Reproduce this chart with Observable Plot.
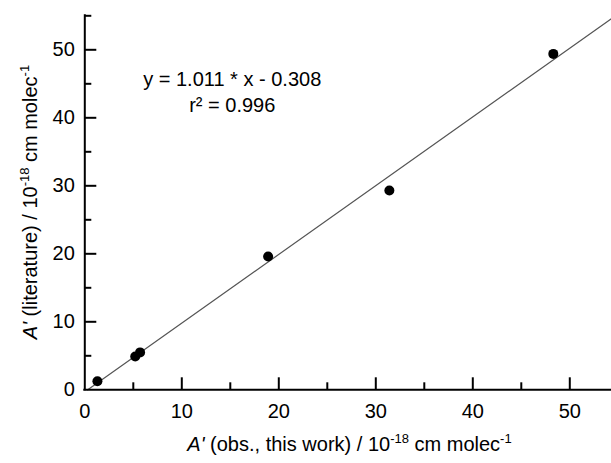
<!DOCTYPE html>
<html><head><meta charset="utf-8">
<script src="https://cdn.jsdelivr.net/npm/d3@7"></script>
<script src="https://cdn.jsdelivr.net/npm/@observablehq/plot@0.6"></script>
<style>
body{margin:0;background:#fff;}
svg{font-family:"Liberation Sans",Arial,Helvetica,sans-serif;}
</style>
</head><body><div id="chart"></div>
<script>
// Data
const obsA = [1.3, 5.2, 5.7, 18.9, 31.4, 48.3];     // A' (obs., this work)
const litA = [1.25, 4.9, 5.5, 19.6, 29.3, 49.4];    // A' (literature)
const xMajor = [0, 10, 20, 30, 40, 50];
const xMinor = [5, 15, 25, 35, 45];
const yMajor = [0, 10, 20, 30, 40, 50];
const yMinor = [5, 15, 25, 35, 45, 55];
const fitSlope = 1.011;
const fitIntercept = -0.308;
const fitText = "y = 1.011 * x - 0.308";
const r2Text = "r\u00B2 = 0.996";

const xDomain = [0, 54.3];
const yDomain = [0, 55];

const points = obsA.map((x, i) => ({x, y: litA[i]}));
const fitStart = -fitIntercept / fitSlope;
const fitLine = [fitStart, xDomain[1]].map(x => ({x, y: fitSlope * x + fitIntercept}));

const FS = 20;

const plot = Plot.plot({
  width: 611,
  height: 463,
  marginLeft: 84.3,
  marginRight: 0,
  marginTop: 15.3,
  marginBottom: 73.7,
  x: {domain: xDomain, axis: null},
  y: {domain: yDomain, axis: null},
  style: {fontFamily: '"Liberation Sans", Arial, sans-serif', background: "white", color: "black"},
  marks: [
    Plot.line(fitLine, {x: "x", y: "y", stroke: "#555", strokeWidth: 1.2}),
    Plot.ruleY([0], {stroke: "black", strokeWidth: 2, strokeLinecap: "square"}),
    Plot.ruleX([0], {stroke: "black", strokeWidth: 2, strokeLinecap: "square"}),
    Plot.ruleX(xMajor.filter(v => v > 0), {x: d => d, y1: 0, y2: 0, insetTop: -12, stroke: "black", strokeWidth: 2}),
    Plot.ruleX(xMinor, {x: d => d, y1: 0, y2: 0, insetTop: -7, stroke: "black", strokeWidth: 2}),
    Plot.ruleY(yMajor.filter(v => v > 0), {y: d => d, x1: 0, x2: 0, insetRight: -12, stroke: "black", strokeWidth: 2}),
    Plot.ruleY(yMinor, {y: d => d, x1: 0, x2: 0, insetRight: -7, stroke: "black", strokeWidth: 2}),
    Plot.text(xMajor, {x: d => d, y: yDomain[0], dy: 22, text: d => String(d), fontSize: FS, fill: "black"}),
    Plot.text(yMajor, {x: xDomain[0], y: d => d, dx: -10, textAnchor: "end", text: d => String(d), fontSize: FS, fill: "black"}),
    Plot.dot(points, {x: "x", y: "y", r: 5, fill: "black", stroke: "none"}),
    Plot.text([fitText + "\n" + r2Text], {x: 15.2, y: 40.85, text: d => d, lineAnchor: "bottom", lineHeight: 1.32, fontSize: FS, fill: "black"})
  ]
});

document.getElementById("chart").appendChild(plot);

// Axis titles with italic A' and superscripts
const svg = d3.select(plot);
function addLabel(g, main) {
  const t = g.append("text")
    .attr("text-anchor", "middle")
    .attr("font-size", FS)
    .attr("fill", "black");
  t.append("tspan").attr("font-style", "italic").text("A'");
  t.append("tspan").text(main + " / 10");
  t.append("tspan").attr("font-size", 13).attr("dy", -8).text("-18");
  t.append("tspan").attr("dy", 8).text(" cm molec");
  t.append("tspan").attr("font-size", 13).attr("dy", -8).text("-1");
  return t;
}
addLabel(svg.append("g").attr("transform", "translate(349.5,451)"), " (obs., this work)");
addLabel(svg.append("g").attr("transform", "translate(37,202) rotate(-90)"), " (literature)");
</script>
</body></html>
